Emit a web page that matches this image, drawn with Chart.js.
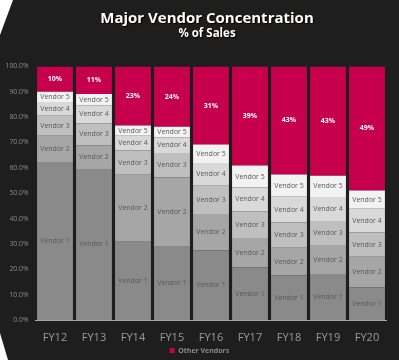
<!DOCTYPE html>
<html><head><meta charset="utf-8">
<script src="https://cdn.jsdelivr.net/npm/chart.js@4/dist/chart.umd.min.js"></script>
<style>
html,body{margin:0;padding:0;background:#1e1e1e;}
#wrap{position:relative;width:399px;height:360px;overflow:hidden;background:#1e1e1e;}
#c{position:absolute;left:0;top:0;}
.tri1{position:absolute;left:0;top:0;width:13px;height:35px;background:#fff;clip-path:polygon(0 0,100% 0,0 100%);}
.tri2{position:absolute;left:0;top:333px;width:8px;height:27px;background:#fff;clip-path:polygon(0 0,100% 100%,0 100%);}
.t{position:absolute;left:15px;right:0;text-align:center;color:#fff;font-family:"Open Sans";font-weight:bold;text-shadow:1px 1px 1px #000,0 0 2px #3a2000;}
#t1{top:7px;font-size:15px;line-height:20px;}
#t2{top:26px;font-size:11.5px;line-height:14px;}
</style></head>
<body>
<div id="wrap">
<canvas id="c" width="399" height="360"></canvas>
<div class="tri1"></div><div class="tri2"></div>
<div class="t" id="t1">Major Vendor Concentration</div>
<div class="t" id="t2">% of Sales</div>
</div>
<script>
const categories = ['FY12','FY13','FY14','FY15','FY16','FY17','FY18','FY19','FY20'];
const vendor1 = [62.3, 59.6, 30.9, 29.2, 27.4, 20.7, 17.6, 18.1, 12.9];
const vendor2 = [10.4, 9.3, 26.4, 27.1, 14.4, 11.6, 10.9, 11.5, 12.1];
const vendor3 = [7.9, 8.6, 9.6, 9.6, 11.2, 10.5, 10.0, 9.5, 9.5];
const vendor4 = [5.4, 7.2, 5.8, 6.2, 8.9, 9.5, 10.1, 9.4, 9.4];
const vendor5 = [4.0, 4.5, 4.0, 4.1, 7.3, 8.6, 8.8, 8.4, 7.2];
const otherVendors = [10.0, 10.8, 23.3, 23.8, 30.8, 39.1, 42.6, 43.1, 48.9];
const seriesNames = ['Vendor 1','Vendor 2','Vendor 3','Vendor 4','Vendor 5','Other Vendors'];
const seriesColors = ['#8a8a8a','#a6a6a6','#bfbfbf','#d9d9d9','#f2f2f2','#c6004c'];
const seriesData = [vendor1, vendor2, vendor3, vendor4, vendor5, otherVendors];

const segLabels = {
  id: 'segLabels',
  afterDatasetsDraw(chart) {
    const ctx = chart.ctx;
    chart.data.datasets.forEach((ds, i) => {
      const meta = chart.getDatasetMeta(i);
      meta.data.forEach((bar, j) => {
        const p = bar.getProps(['x','y','base'], true);
        const cy = (p.y + p.base) / 2;
        let text;
        ctx.save();
        if (i === 5) {
          ctx.font = 'bold 7px "Open Sans"';
          ctx.fillStyle = '#ffffff';
          text = Math.round(ds.data[j]) + '%';
        } else {
          ctx.font = '7px "Open Sans"';
          ctx.fillStyle = '#5a5a5a';
          text = ds.label;
        }
        ctx.textAlign = 'center';
        ctx.textBaseline = 'middle';
        ctx.fillText(text, p.x, cy);
        ctx.restore();
      });
    });
  }
};

new Chart(document.getElementById('c'), {
  type: 'bar',
  data: {
    labels: categories,
    datasets: seriesNames.map((n, i) => ({
      label: n,
      data: seriesData[i],
      backgroundColor: seriesColors[i],
      borderWidth: 0,
      categoryPercentage: 1,
      barPercentage: 0.92
    }))
  },
  options: {
    responsive: false,
    devicePixelRatio: 1,
    animation: false,
    layout: { padding: { top: 66.5, right: 0, left: 0, bottom: 0 } },
    plugins: {
      title: { display: false },
      tooltip: { enabled: false },
      legend: {
        position: 'bottom',
        maxHeight: 14,
        labels: {
          filter: (item) => item.text === 'Other Vendors',
          boxWidth: 5, boxHeight: 5,
          color: '#8a8a8a',
          font: { family: 'Open Sans', size: 7, weight: 'bold' },
          padding: 1
        }
      }
    },
    scales: {
      x: {
        stacked: true,
        grid: { display: false, drawTicks: false },
        border: { display: true, color: '#a6a6a6', width: 1 },
        ticks: { color: '#9a9a9a', font: { family: 'Open Sans', size: 11 }, padding: 11 },
        afterFit(s) { s.height = 26; }
      },
      y: {
        stacked: true,
        min: 0, max: 100,
        grid: { display: false, drawTicks: false },
        border: { display: false },
        ticks: {
          stepSize: 10,
          color: '#8c8c8c',
          font: { family: 'Open Sans', size: 6.8 },
          padding: 7,
          callback: (v) => Number(v).toFixed(1) + '%'
        },
        afterFit(s) { s.width = 35.5; }
      },
      yRight: {
        position: 'right',
        display: true,
        grid: { display: false, drawTicks: false },
        border: { display: false },
        ticks: { display: false },
        afterFit(s) { s.width = 12.5; }
      }
    }
  },
  plugins: [segLabels]
});
</script>
</body></html>
